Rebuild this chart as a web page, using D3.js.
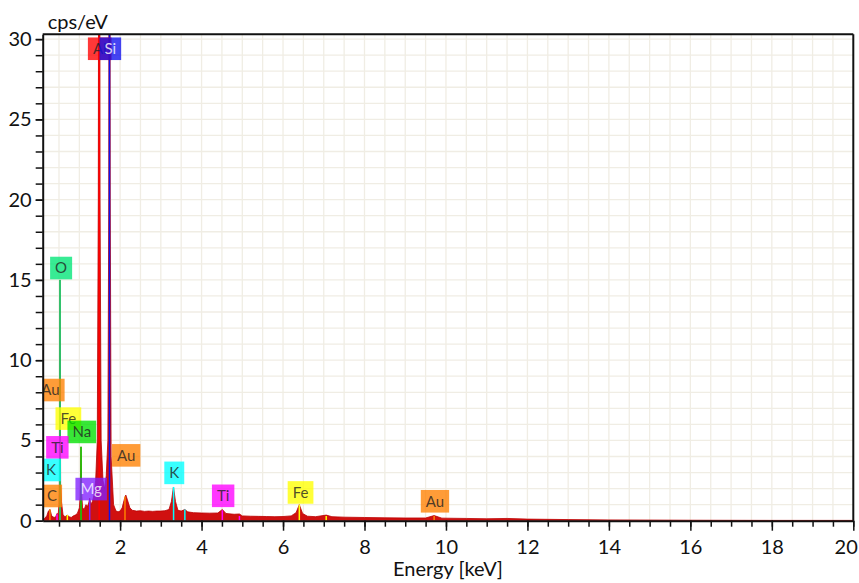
<!DOCTYPE html>
<html>
<head>
<meta charset="utf-8">
<script src="https://cdn.jsdelivr.net/npm/d3@7"></script>
<style>
  body { margin: 0; background: #fff; }
  text { font-family: Lato, "Open Sans", sans-serif; }
</style>
</head>
<body>
<div id="chart"></div>
<script>
// EDX spectrum, cps/eV vs energy
const specKeV = [0.10,0.15,0.20,0.24,0.28,0.32,0.38,0.42,0.45,0.48,0.50,0.51,0.525,0.54,0.56,0.60,0.65,0.70,0.75,0.80,0.85,0.90,0.95,
  1.00,1.02,1.04,1.06,1.08,1.12,1.16,1.20,1.23,1.254,1.28,1.32,1.36,1.40,1.44,1.465,1.487,1.508,1.535,1.58,1.62,1.66,1.70,1.722,1.74,1.758,1.78,1.84,1.90,1.95,
  2.00,2.05,2.10,2.14,2.18,2.24,2.30,2.40,2.50,2.60,2.70,2.80,2.90,3.00,3.10,3.20,3.26,3.31,3.36,3.42,3.50,3.59,3.66,3.80,
  4.00,4.20,4.40,4.51,4.60,4.80,4.93,5.00,5.20,5.40,5.60,5.80,6.00,6.20,6.32,6.40,6.48,6.60,6.80,7.06,7.20,7.50,
  8.00,8.50,9.00,9.50,9.71,9.90,10.5,11.0,11.5,12.0,13.0,14.0,16.0,18.0,20.0];
const specCps = [0.05,0.15,0.3,0.6,0.7,0.3,0.2,0.25,0.45,0.4,1.0,2.3,15.0,2.3,1.2,0.35,0.25,0.35,0.25,0.2,0.3,0.35,0.45,
  0.8,1.5,4.6,1.5,0.8,0.7,1.0,0.9,1.1,1.4,1.0,1.2,1.6,2.5,5,20,70,20,5,2.5,2.0,2.8,5,20,70,20,4,1.0,0.6,0.55,
  0.6,0.8,1.3,1.6,1.3,0.8,0.65,0.6,0.62,0.58,0.6,0.58,0.6,0.6,0.62,0.7,1.2,2.1,1.2,0.65,0.6,0.7,0.55,0.5,
  0.48,0.47,0.48,0.7,0.45,0.4,0.42,0.3,0.28,0.27,0.26,0.25,0.26,0.3,0.5,1.0,0.45,0.28,0.25,0.35,0.25,0.22,
  0.2,0.18,0.17,0.17,0.32,0.16,0.14,0.12,0.14,0.1,0.07,0.05,0.03,0.02,0.02];

// element marker lines
const lineKeV  = [0.277, 0.452, 0.525, 0.705, 1.041, 1.254, 1.487, 1.740, 2.120, 3.313, 3.590, 4.510, 4.930, 6.400, 7.060, 9.710];
const lineCps  = [0.7, 0.4, 15.0, 0.35, 4.6, 1.3, 31, 31, 1.5, 2.1, 0.7, 0.65, 0.3, 1.0, 0.3, 0.3];
const lineElem = ["C", "Ti", "O", "Fe", "Na", "Mg", "Al", "Si", "Au", "K", "K", "Ti", "Ti", "Fe", "Fe", "Au"];

// element labels
const labelName = ["Al", "Si", "O", "Au", "Fe", "Na", "Ti", "K", "C", "Mg", "Au", "K", "Ti", "Fe", "Au"];
const labelKeV  = [1.50, 1.76, 0.552, 0.29, 0.73, 1.06, 0.46, 0.30, 0.33, 1.29, 2.15, 3.33, 4.53, 6.43, 9.73];
const labelCps  = [29.4, 29.4, 15.74, 8.14, 6.36, 5.53, 4.57, 3.16, 1.54, 1.97, 4.07, 2.98, 1.55, 1.76, 1.21];

const elemColor = {
  Al: "#ff0000", Si: "#1010ee", O: "#00e676", Au: "#ff8000", Fe: "#ffff00",
  Na: "#00e000", Ti: "#ff00ff", K: "#00ffff", C: "#ff8000", Mg: "#8020ff"
};
const lightText = { Si: true, Mg: true };

const yTicks = [0, 5, 10, 15, 20, 25, 30];
const xTicks = [2, 4, 6, 8, 10, 12, 14, 16, 18, 20];

const width = 859, height = 583;
const margin = { top: 34.3, right: 5.7, bottom: 62.3, left: 42.7 };

const svg = d3.select("#chart").append("svg")
  .attr("width", width)
  .attr("height", height);

const x = d3.scaleLinear().domain([0.1, 20]).range([margin.left, width - margin.right]);
const y = d3.scaleLinear().domain([0, 30.3]).range([height - margin.bottom, margin.top]);

svg.append("defs").append("clipPath").attr("id", "plotclip")
  .append("rect")
  .attr("x", margin.left).attr("y", margin.top)
  .attr("width", width - margin.left - margin.right)
  .attr("height", height - margin.top - margin.bottom);

// grid
const grid = svg.append("g");
grid.selectAll(".gx")
  .data(d3.range(0.5, 20, 0.5))
  .join("line")
  .attr("x1", d => x(d)).attr("x2", d => x(d))
  .attr("y1", y(0)).attr("y2", margin.top)
  .attr("stroke", "#f0ede4").attr("stroke-width", 1.3);
grid.selectAll(".gy")
  .data(d3.range(1, 31, 1))
  .join("line")
  .attr("x1", margin.left).attr("x2", width - margin.right)
  .attr("y1", d => y(d)).attr("y2", d => y(d))
  .attr("stroke", "#f0ede4").attr("stroke-width", 1.3);

const plot = svg.append("g").attr("clip-path", "url(#plotclip)");

const spec = specKeV.map((e, i) => ({ e: e, v: specCps[i] }));

plot.append("path")
  .datum(spec)
  .attr("fill", "#d01010")
  .attr("stroke", "#bb0000")
  .attr("stroke-width", 0.8)
  .attr("d", d3.area().x(d => x(d.e)).y0(y(0)).y1(d => y(d.v)));

plot.selectAll(".eline")
  .data(lineKeV)
  .join("line")
  .attr("x1", d => x(d)).attr("x2", d => x(d))
  .attr("y1", y(0))
  .attr("y2", (d, i) => y(lineCps[i]))
  .attr("stroke", (d, i) => elemColor[lineElem[i]])
  .attr("stroke-width", 1.5);

// labels
const lab = plot.selectAll(".lab")
  .data(labelName)
  .join("g")
  .attr("transform", (d, i) => `translate(${x(labelKeV[i])},${y(labelCps[i])})`);

lab.append("text")
  .attr("text-anchor", "middle")
  .attr("dy", "0.36em")
  .attr("font-size", 15)
  .attr("fill", d => lightText[d] ? "#ffffff" : "#222")
  .text(d => d)
  .each(function () {
    const w = this.getComputedTextLength() + 10;
    d3.select(this.parentNode).insert("rect", "text")
      .attr("x", -w / 2).attr("y", -11.3)
      .attr("width", w).attr("height", 22.6);
  });

lab.select("rect")
  .attr("fill", d => elemColor[d])
  .attr("fill-opacity", 0.78);

lab.select("text").attr("fill-opacity", d => lightText[d] ? 0.8 : 0.8);

// frame
svg.append("line")
  .attr("x1", margin.left).attr("x2", width - margin.right)
  .attr("y1", margin.top).attr("y2", margin.top)
  .attr("stroke", "#111").attr("stroke-width", 2);
svg.append("line")
  .attr("x1", width - margin.right).attr("x2", width - margin.right)
  .attr("y1", margin.top).attr("y2", y(0))
  .attr("stroke", "#111").attr("stroke-width", 2);

// axes
const xMinor = svg.append("g")
  .attr("transform", `translate(0,${y(0)})`)
  .call(d3.axisBottom(x).tickValues(d3.range(0.5, 20.01, 0.5)).tickSize(6).tickFormat(""));
xMinor.select(".domain").remove();
xMinor.selectAll("line").attr("stroke", "#111").attr("stroke-width", 1.5);

const xAxis = svg.append("g")
  .attr("transform", `translate(0,${y(0)})`)
  .call(d3.axisBottom(x).tickValues(xTicks).tickSize(10).tickSizeOuter(0).tickPadding(9).tickFormat(d3.format("d")));
xAxis.select(".domain").attr("stroke", "#111").attr("stroke-width", 2);
xAxis.selectAll("line").attr("stroke", "#111").attr("stroke-width", 1.5);
xAxis.selectAll("text").attr("font-size", 20).attr("fill", "#111")
  .style("font-family", "Lato, sans-serif");
xAxis.selectAll(".tick").filter(d => d === 20).select("text")
  .attr("text-anchor", "end").attr("x", 4);

const yMinor = svg.append("g")
  .attr("transform", `translate(${margin.left},0)`)
  .call(d3.axisLeft(y).tickValues(d3.range(0, 31, 1)).tickSize(7).tickFormat(""));
yMinor.select(".domain").remove();
yMinor.selectAll("line").attr("stroke", "#111").attr("stroke-width", 1.5);

const yAxis = svg.append("g")
  .attr("transform", `translate(${margin.left},0)`)
  .call(d3.axisLeft(y).tickValues(yTicks).tickSize(7).tickSizeOuter(0).tickPadding(4));
yAxis.select(".domain").attr("stroke", "#111").attr("stroke-width", 2);
yAxis.selectAll("line").attr("stroke", "#111").attr("stroke-width", 1.5);
yAxis.selectAll("text").attr("font-size", 20).attr("fill", "#111")
  .style("font-family", "Lato, sans-serif");

// titles
svg.append("text")
  .attr("x", 47.7).attr("y", 29)
  .attr("font-size", 20).attr("fill", "#111")
  .text("cps/eV");

svg.append("text")
  .attr("x", (margin.left + width - margin.right) / 2)
  .attr("y", 576)
  .attr("text-anchor", "middle")
  .attr("font-size", 20).attr("fill", "#111")
  .text("Energy [keV]");
</script>
</body>
</html>
